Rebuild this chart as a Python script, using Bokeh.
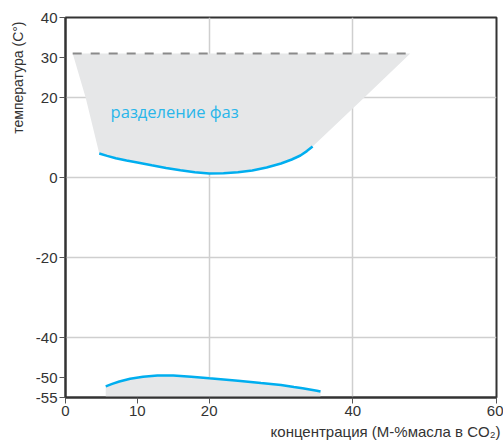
from bokeh.plotting import figure
from bokeh.models import FixedTicker, Label, Title
from bokeh.embed import file_html
from bokeh.resources import INLINE

# ---- data ----
x_ticks = [0, 10, 20, 40, 60]
y_ticks = [-55, -50, -40, -20, 0, 20, 30, 40]
x_grid = [20, 40]
y_grid = [-40, -20, 0, 20]

# upper boundary of the phase-separation region (lower edge, blue curve)
upper_x = [4.7, 5.8, 7.0, 8.5, 10.0, 12.0, 14.0, 16.0, 18.0, 20.0, 22.0, 24.0,
           26.0, 28.0, 30.0, 31.5, 32.7, 33.6, 34.4]
upper_y = [6.0, 5.4, 4.8, 4.25, 3.75, 3.05, 2.4, 1.8, 1.3, 1.0, 1.05, 1.3,
           1.75, 2.5, 3.5, 4.5, 5.5, 6.6, 7.75]
# left edge and right edge of the shaded region up to the critical line
left_edge_x = [1.0, 2.8, 4.7]
left_edge_y = [31.0, 20.0, 6.0]
right_edge_x = [34.4, 41.6, 48.0]
right_edge_y = [7.75, 20.0, 31.0]
crit_x = [1.0, 48.0]
crit_y = [31.0, 31.0]

# lower region (blue curve, shaded down to axis)
lower_x = [5.6, 6.5, 7.5, 9.0, 10.8, 12.8, 15.0, 17.5, 20.0, 22.0, 24.0, 27.2,
           30.0, 31.8, 33.0, 34.0, 35.0, 35.5]
lower_y = [-52.2, -51.6, -51.0, -50.3, -49.8, -49.5, -49.5, -49.8, -50.2, -50.5,
           -50.8, -51.4, -51.9, -52.4, -52.7, -53.0, -53.3, -53.5]
y_min = -55

label_region = "разделение фаз"
label_x = "концентрация (M-%масла в CO₂)"
label_y = "температура (C°)"

FONT = "Liberation Sans"
FILL = "#e6e7e8"
BLUE = "#00aeef"
DARK = "#333333"

p = figure(width=503, height=441, x_range=(0, 60), y_range=(-55, 40),
           output_backend="svg", toolbar_location=None,
           min_border_left=65, min_border_right=7, min_border_top=17, min_border_bottom=44)

# shaded upper region
poly_x = left_edge_x + upper_x[1:] + right_edge_x[1:]
poly_y = left_edge_y + upper_y[1:] + right_edge_y[1:]
p.patch(poly_x, poly_y, fill_color=FILL, line_color=None)
# shaded lower region
p.varea(x=lower_x, y1=[y_min] * len(lower_x), y2=lower_y, fill_color=FILL)

p.line(crit_x, crit_y, line_color="#8a8a8a", line_width=2, line_dash="9 9")
p.line(upper_x, upper_y, line_color=BLUE, line_width=2.5)
p.line(lower_x, lower_y, line_color=BLUE, line_width=2.5)

p.add_layout(Label(x=15.2, y=16.6, text=label_region, text_align="center",
                   text_baseline="middle", text_color="#29b6ea",
                   text_font="Open Sans", text_font_size="16.5px"))

# axis titles placed as side titles so they are not clipped by the frame
p.add_layout(Title(text=label_y, align="right", offset=-3, standoff=0, padding=7,
                   text_color=DARK, text_font=FONT, text_font_size="14px",
                   text_font_style="normal"), "left")
p.add_layout(Title(text=label_x, align="right", offset=-4, standoff=4,
                   text_color=DARK, text_font=FONT, text_font_size="15px",
                   text_font_style="normal"), "below")

p.xaxis.ticker = FixedTicker(ticks=x_ticks)
p.yaxis.ticker = FixedTicker(ticks=y_ticks)
p.xaxis.major_label_overrides = {t: str(t) for t in x_ticks}
p.yaxis.major_label_overrides = {t: str(t) for t in y_ticks}
p.xgrid.ticker = FixedTicker(ticks=x_grid)
p.ygrid.ticker = FixedTicker(ticks=y_grid)
p.grid.grid_line_color = "#cfcfcf"
p.grid.grid_line_width = 1.5
p.grid.level = "underlay"

for ax in (p.xaxis, p.yaxis):
    ax.axis_label = None
    ax.axis_label_standoff = 0
    ax.axis_line_color = DARK
    ax.axis_line_width = 2
    ax.major_tick_line_color = "#555555"
    ax.major_tick_in = 0
    ax.major_tick_out = 6
    ax.minor_tick_line_color = None
    ax.major_label_text_font = FONT
    ax.major_label_text_font_size = "15px"
    ax.major_label_text_color = DARK
p.xaxis.major_label_standoff = 2
p.yaxis.major_label_standoff = 2

p.outline_line_color = DARK
p.outline_line_width = 2
p.background_fill_color = "white"

open("out.html", "w").write(file_html(p, INLINE))
